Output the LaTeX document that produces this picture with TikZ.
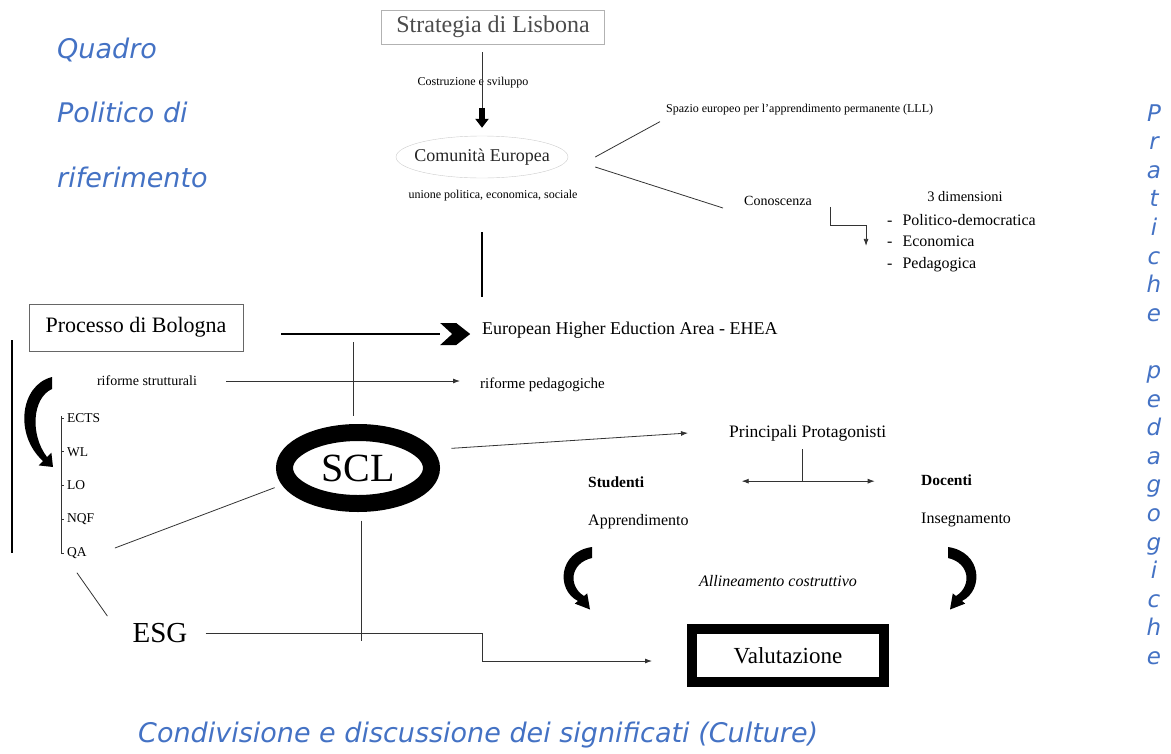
\documentclass[tikz,border=0pt]{standalone}
\usepackage{fontspec}
\setmainfont{Liberation Serif}
\newfontfamily\bluefont{DejaVu Sans}
\usetikzlibrary{arrows.meta,shapes.geometric}
\definecolor{quadro}{RGB}{68,114,196}

\begin{document}
\begin{tikzpicture}[x=1pt, y=-1pt,
    txt/.style={inner sep=1pt, font=\fontsize{#1}{#1}\selectfont},
    blu/.style={text=quadro, inner sep=0pt, font=\bluefont\itshape\fontsize{#1}{#1}\selectfont},
    ln/.style={draw=black!80, line width=0.8pt},
    arr/.style={-{Latex[length=7pt,width=5pt]}},
    arrr/.style={{Latex[length=7pt,width=5pt]}-{Latex[length=7pt,width=5pt]}}]
    \useasboundingbox (0,0) rectangle (1171,753);

    \node[blu=27, anchor=base west] (q1) at (57,58) {Quadro};
    \node[blu=27, anchor=base west] (q2) at (57,122) {Politico di};
    \node[blu=27, anchor=base west] (q3) at (57,187) {riferimento};
    \node[blu=27, anchor=base west] (cult) at (138,742) {Condivisione e discussione dei significati (Culture)};
    \foreach \l [count=\i from 0] in {P,r,a,t,i,c,h,e}
        \node[blu=23, anchor=base] (pr\i) at (1154,{121+28.6*\i}) {\l};
    \foreach \l [count=\i from 9] in {p,e,d,a,g,o,g,i,c,h,e}
        \node[blu=23, anchor=base] (pe\i) at (1154,{121+28.6*\i}) {\l};

    \node[draw=black!30, minimum width=223pt, minimum height=34pt, txt=24, text=black!70] (lisbona) at (493,27) {Strategia di Lisbona};
    \node[txt=12] (costr) at (473,83) {Costruzione e sviluppo};
    \node[ellipse, draw=black!20, minimum width=172pt, minimum height=42pt, txt=18, inner xsep=-14pt, inner ysep=0pt, text=black!85] (comunita) at (482,157) {Comunità Europea};
    \node[txt=12] (unione) at (493,196) {unione politica, economica, sociale};
    \node[txt=12, anchor=west] (lll) at (665,110) {Spazio europeo per l’apprendimento permanente (LLL)};
    \node[txt=14, anchor=west] (conosc) at (743,201) {Conoscenza};
    \node[txt=14.5] (dim) at (965,197) {3 dimensioni};
    \foreach \d [count=\i from 0] in {Politico-democratica,Economica,Pedagogica}
        \node[txt=16, anchor=base west] (dim\i) at (886,{225+21.5*\i}) {-\hspace{10pt}\d};

    \draw[ln] ([yshift=-8pt]lisbona.south -| comunita.north) -- ([yshift=28pt]comunita.north);
    \draw[line width=6pt, -{Triangle[length=9pt,width=13pt]}] ([yshift=28pt]comunita.north) -- ([yshift=8pt]comunita.north);
    \draw[ln] ([xshift=27pt]comunita.east) -- ([shift={(-5pt,-5pt)}]lll.south west);
    \draw[ln] ([xshift=27pt,yshift=-10pt]comunita.east) -- ([shift={(-20pt,-7pt)}]conosc.west);
    \draw[ln, arr] ([xshift=17pt]conosc.south east) -- ++(0,18) -- ++(36,0) -- ++(0,21);
    \draw[line width=1.6pt] ([yshift=-54pt]comunita.south) -- ++(0,65);

    \node[draw=black!60, minimum width=214pt, minimum height=47pt, txt=22] (bologna) at (136,327.5) {Processo di Bologna};
    \node[txt=18, anchor=west] (ehea) at (481,330) {European Higher Eduction Area - EHEA};
    \node[txt=14] (strutt) at (147,381) {riforme strutturali};
    \node[txt=15, anchor=west] (pedag) at (479,385) {riforme pedagogiche};
    \foreach \t [count=\i] in {ECTS,WL,LO,NQF,QA}
        \node[txt=13.5, anchor=west] (it\i) at (66,{384.25+33.75*\i}) {\t};
    \node[ellipse, draw, line width=17pt, minimum width=147pt, minimum height=71pt, txt=40, inner sep=0pt] (scl) at (358,468) {SCL};
    \node[txt=29] (esg) at (160,633) {ESG};

    \draw[line width=1.6pt] ([shift={(38pt,-6.5pt)}]bologna.east) -- ++(159,0) coordinate (chev);
    \fill (chev) ++(0,-11) -- ++(16,0) -- ++(14,11) -- ++(-14,11) -- ++(-16,0) -- ++(12,-11) -- cycle;
    \draw[ln, arr] ([xshift=28pt]strutt.east) -- ([xshift=-19pt]strutt.east -| pedag.west);
    \draw[line width=1.8pt] (12,340) -- (12,553);
    \fill (52,377) .. controls (20,385) and (14,435) .. (43,461) -- (38.6,465.4) -- (53,467)
        -- (51.4,452.6) -- (47,457) .. controls (30,435) and (32,398) .. (52,389) -- cycle;
    \draw[ln] ([xshift=-5pt,yshift=2pt]it1.west) -- ([xshift=-5pt]it5.west);
    \foreach \i in {1,...,5}
        \draw[ln] ([xshift=-5pt]it\i.west) -- ([xshift=-2.5pt]it\i.west);
    \draw[ln] ([xshift=-5pt,yshift=8.5pt]scl.north) -- ++(0,-74);
    \draw[ln] ([xshift=-10pt]scl.195) -- ([shift={(27pt,5pt)}]it5.east);
    \draw[ln] ([yshift=-13pt]it5.south) -- ([shift={(-24pt,6pt)}]esg.north west);

    \node[txt=17.5, anchor=west] (princ) at (728,433) {Principali Protagonisti};
    \node[txt=15.5, anchor=west] (stud) at (587,482) {\textbf{Studenti}};
    \node[txt=15.5, anchor=west] (doc) at (920,480) {\textbf{Docenti}};
    \node[txt=16, anchor=west] (appr) at (587,522) {Apprendimento};
    \node[txt=16, anchor=west] (inseg) at (920,520) {Insegnamento};
    \node[txt=16] (allin) at (778,581) {\textit{Allineamento costruttivo}};
    \node[draw, line width=10pt, minimum width=192pt, minimum height=53pt, txt=23] (valut) at (788,655.5) {Valutazione};

    \draw[ln, arr] ([xshift=20pt]scl.15) -- ([xshift=-40pt]princ.west);
    \draw[ln] ([shift={(-5pt,-7pt)}]princ.south) -- ++(0,32) coordinate (bv);
    \draw[ln, arrr] ([xshift=-61pt]bv) -- ([xshift=72pt]bv);
    \fill (592,547) .. controls (558,552) and (556,590) .. (578,601) -- (574.8,603.6) -- (590,609.5)
        -- (587.2,593.4) -- (584,596) .. controls (568,586) and (570,563) .. (592,558) -- cycle;
    \fill (948,547) .. controls (982,552) and (984,590) .. (962,601) -- (965.2,603.6) -- (950,609.5)
        -- (952.8,593.4) -- (956,596) .. controls (972,586) and (970,563) .. (948,558) -- cycle;
    \draw[ln] ([shift={(3pt,-8.5pt)}]scl.south) -- ++(0,120.5);
    \draw[ln, arr] ([xshift=17pt]esg.east) -- ++(277,0) -- ++(0,28) -- ([shift={(-35pt,-5.5pt)}]valut.west);
\end{tikzpicture}
\end{document}
